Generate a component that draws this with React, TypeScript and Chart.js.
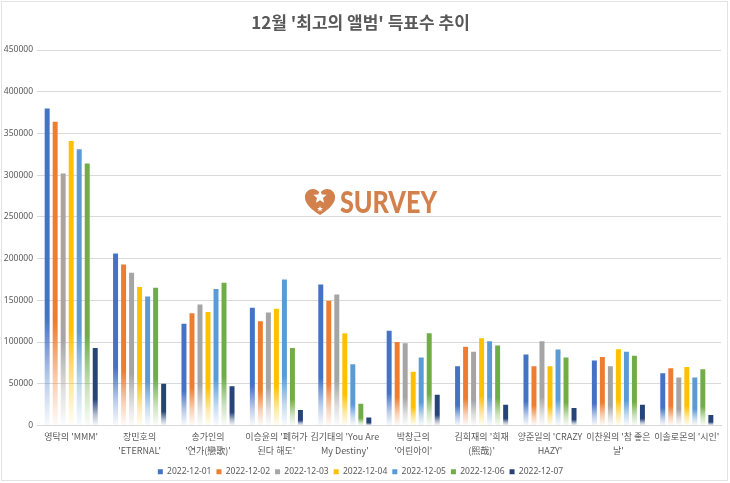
import React, { useEffect, useRef } from "react";
import { Chart, registerables } from "chart.js";

Chart.register(...registerables);

const categories: string[][] = [
  ["영탁의 'MMM'"],
  ["장민호의", "'ETERNAL'"],
  ["송가인의", "'연가(戀歌)'"],
  ["이승윤의 '폐허가", "된다 해도'"],
  ["김기태의 'You Are", "My Destiny'"],
  ["박창근의", "'어린아이'"],
  ["김희재의 '희재", "(熙哉)'"],
  ["양준일의 'CRAZY", "HAZY'"],
  ["이찬원의 '참 좋은", "날'"],
  ["이솔로몬의 '시인'"],
];

const seriesLabels = ["2022-12-01", "2022-12-02", "2022-12-03", "2022-12-04", "2022-12-05", "2022-12-06", "2022-12-07"];

const d1201 = [380000, 206000, 122000, 141000, 169000, 113600, 71000, 85000, 78000, 62500];
const d1202 = [364000, 193000, 134500, 125000, 149500, 100000, 94500, 71000, 82000, 68500];
const d1203 = [302000, 183000, 145000, 135500, 157000, 98500, 88500, 101000, 71000, 57500];
const d1204 = [341000, 166000, 136000, 140000, 110500, 64500, 104500, 71000, 91500, 70000];
const d1205 = [331000, 154500, 163500, 175000, 73500, 81500, 101000, 91000, 88500, 57500];
const d1206 = [314000, 165000, 171000, 93000, 26000, 110500, 96000, 81500, 83500, 67500];
const d1207 = [93000, 50000, 47000, 18500, 9500, 37000, 25000, 21000, 25000, 12500];

const seriesData = [d1201, d1202, d1203, d1204, d1205, d1206, d1207];
const colors = ["#4472C4", "#ED7D31", "#A5A5A5", "#FFC000", "#5B9BD5", "#70AD47", "#264478"];

const yMax = 450000;
const yStep = 50000;
const titleText = "12월 '최고의 앨범' 득표수 추이";
const watermarkText = "SURVEY";

function hexToRgba(hex: string, a: number) {
  const n = parseInt(hex.slice(1), 16);
  return `rgba(${(n >> 16) & 255},${(n >> 8) & 255},${n & 255},${a})`;
}

const makeBg = (color: string) => (ctx: any) => {
  const chart = ctx.chart;
  const { chartArea, scales } = chart;
  if (!chartArea || ctx.type !== "data" || !scales.y) return color;
  const v = ctx.raw as number;
  const yTop = scales.y.getPixelForValue(v);
  const yBase = scales.y.getPixelForValue(0);
  if (!isFinite(yTop) || !isFinite(yBase) || yBase - yTop < 1) return color;
  const g = chart.ctx.createLinearGradient(0, yTop, 0, yBase);
  g.addColorStop(0, color);
  g.addColorStop(0.66, color);
  g.addColorStop(0.86, hexToRgba(color, 0.35));
  g.addColorStop(1, hexToRgba(color, 0.03));
  return g;
};

const decorPlugin = {
  id: "decor",
  beforeDatasetsDraw(chart: any) {
    const c = chart.ctx as CanvasRenderingContext2D;
    c.save();
    const col = "#D2814D";
    const cx = 320, ty = 188, by = 215;
    c.fillStyle = col;
    c.beginPath();
    c.moveTo(cx, by);
    c.bezierCurveTo(cx - 10, by - 6, cx - 16, by - 13, cx - 15, ty + 8);
    c.bezierCurveTo(cx - 14, ty + 1, cx - 5, ty - 2, cx, ty + 5);
    c.bezierCurveTo(cx + 5, ty - 2, cx + 14, ty + 1, cx + 15, ty + 8);
    c.bezierCurveTo(cx + 16, by - 13, cx + 10, by - 6, cx, by);
    c.closePath();
    c.fill();
    const star = (sx: number, sy: number, r: number) => {
      c.beginPath();
      for (let i = 0; i < 10; i++) {
        const rr = i % 2 === 0 ? r : r * 0.45;
        const a = -Math.PI / 2 + (i * Math.PI) / 5;
        const px = sx + rr * Math.cos(a);
        const py = sy + rr * Math.sin(a);
        if (i === 0) c.moveTo(px, py);
        else c.lineTo(px, py);
      }
      c.closePath();
      c.fill();
    };
    c.fillStyle = "#ffffff";
    star(cx, ty + 9, 7);
    star(cx, by - 6, 3);
    c.fillStyle = col;
    c.font = "900 30px 'Lato'";
    c.textBaseline = "alphabetic";
    const w = c.measureText(watermarkText).width;
    c.translate(340, 213);
    c.scale(97 / w, 1);
    c.fillText(watermarkText, 0, 0);
    c.restore();
  },
  afterDraw(chart: any) {
    const c = chart.ctx as CanvasRenderingContext2D;
    c.save();
    c.strokeStyle = "#E3E3E3";
    c.lineWidth = 1;
    c.strokeRect(1.5, 1.5, 726, 479);
    c.restore();
  },
};

export default function App() {
  const ref = useRef<HTMLCanvasElement | null>(null);
  useEffect(() => {
    document.body.style.margin = "0";
    if (!ref.current) return;
    const chart = new Chart(ref.current, {
      type: "bar",
      data: {
        labels: categories as any,
        datasets: seriesData.map((d, i) => ({
          label: seriesLabels[i],
          data: d,
          backgroundColor: makeBg(colors[i]) as any,
          borderWidth: 0,
          categoryPercentage: 0.82,
          barPercentage: 0.62,
        })),
      },
      options: {
        responsive: false,
        animation: false,
        layout: { padding: { left: 0, right: 9, top: 0, bottom: -3 } },
        plugins: {
          title: {
            display: true,
            text: titleText,
            color: "#595959",
            font: { family: "'Noto Sans CJK KR'", size: 17, weight: "bold" },
            padding: { top: 12, bottom: 17.6 },
          },
          legend: {
            position: "bottom",
            labels: {
              boxWidth: 5,
              boxHeight: 5,
              padding: 5,
              color: "#595959",
              font: { family: "'Noto Sans'", size: 8.5 },
              generateLabels: (ch: any) =>
                ch.data.datasets.map((ds: any, i: number) => ({
                  text: ds.label,
                  fillStyle: colors[i],
                  strokeStyle: colors[i],
                  lineWidth: 0,
                  hidden: false,
                  datasetIndex: i,
                  fontColor: "#595959",
                })),
            },
          },
          tooltip: { enabled: false },
        },
        scales: {
          x: {
            grid: { display: false, drawTicks: false },
            border: { display: true, color: "#D9D9D9" },
            ticks: {
              color: "#595959",
              font: { family: "'Noto Sans CJK KR'", size: 9, lineHeight: 1.5 },
              padding: 4.5,
              maxRotation: 0,
              autoSkip: false,
            },
            afterFit: (s: any) => {
              s.height = 37;
            },
          },
          y: {
            min: 0,
            max: yMax,
            grid: { color: "#D9D9D9", drawTicks: false },
            border: { display: false },
            ticks: {
              stepSize: yStep,
              color: "#595959",
              font: { family: "'Noto Sans'", size: 8.5 },
              padding: 4,
              callback: (v: any) => String(v),
            },
            afterFit: (s: any) => {
              s.width = 37;
            },
          },
        },
      },
      plugins: [decorPlugin],
    });
    return () => chart.destroy();
  }, []);
  return (
    <div style={{ position: "absolute", left: 0, top: 0, width: 730, height: 483 }}>
      <canvas ref={ref} width={730} height={483} />
    </div>
  );
}
